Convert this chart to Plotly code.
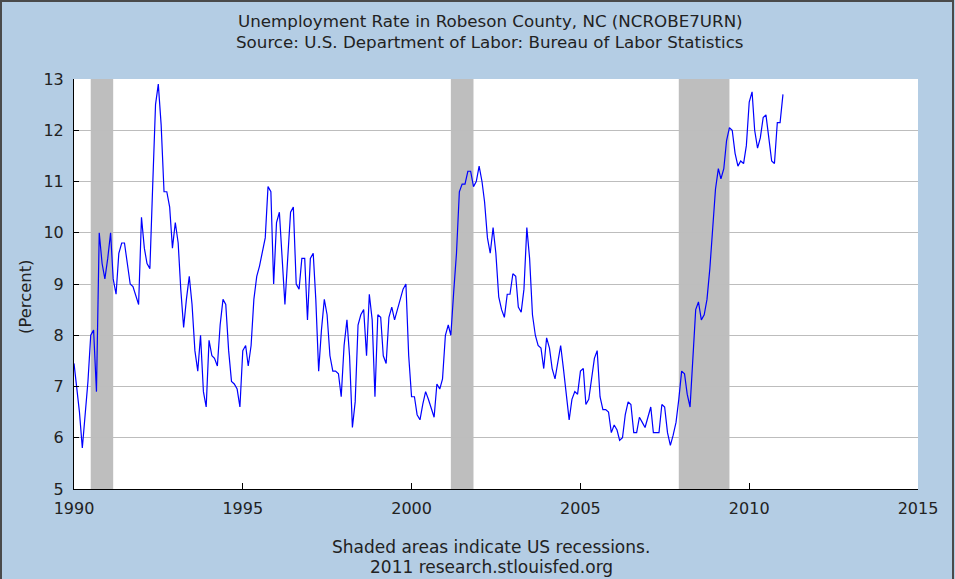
import pandas as pd
import plotly.graph_objects as go

# ---- data (monthly, Jan 1990 - Jan 2011), percent ----
start_month = "1990-01-01"
rate = [
    7.45, 7.0, 6.5, 5.8, 6.5, 7.1, 8.0, 8.1, 6.9, 10.0, 9.4, 9.1,          # 1990
    9.5, 10.0, 9.1, 8.8, 9.6, 9.8, 9.8, 9.4, 9.0, 8.95, 8.75, 8.6,         # 1991
    10.3, 9.7, 9.4, 9.3, 10.9, 12.5, 12.9, 12.1, 10.8, 10.8, 10.5, 9.7,    # 1992
    10.2, 9.8, 8.9, 8.15, 8.7, 9.15, 8.6, 7.7, 7.3, 8.0, 6.9, 6.6,         # 1993
    7.9, 7.6, 7.55, 7.4, 8.2, 8.7, 8.6, 7.7, 7.1, 7.05, 6.95, 6.6,         # 1994
    7.7, 7.8, 7.4, 7.8, 8.7, 9.15, 9.35, 9.6, 9.9, 10.9, 10.8, 9.0,        # 1995
    10.2, 10.4, 9.5, 8.6, 9.5, 10.4, 10.5, 9.0, 8.9, 9.5, 9.5, 8.3,        # 1996
    9.5, 9.6, 8.7, 7.3, 8.1, 8.7, 8.4, 7.6, 7.3, 7.3, 7.25, 6.8,           # 1997
    7.8, 8.3, 7.6, 6.2, 6.7, 8.2, 8.4, 8.5, 7.6, 8.8, 8.3, 6.8,            # 1998
    8.4, 8.35, 7.6, 7.45, 8.35, 8.55, 8.3, 8.5, 8.75, 8.9, 9.0, 7.6,       # 1999
    6.8, 6.8, 6.45, 6.35, 6.65, 6.9, 6.75, 6.55, 6.4, 7.05, 6.95, 7.15,    # 2000
    8.0, 8.2, 8.0, 8.85, 9.6, 10.8, 10.95, 10.95, 11.2, 11.2, 10.9, 11.0,  # 2001
    11.3, 11.0, 10.6, 9.9, 9.6, 10.1, 9.6, 8.75, 8.5, 8.35, 8.8, 8.8,      # 2002
    9.2, 9.15, 8.55, 8.45, 8.9, 10.1, 9.5, 8.4, 8.0, 7.8, 7.75, 7.35,      # 2003
    7.95, 7.75, 7.35, 7.15, 7.45, 7.8, 7.35, 6.9, 6.35, 6.75, 6.9, 6.85,   # 2004
    7.3, 7.35, 6.65, 6.75, 7.1, 7.55, 7.7, 6.8, 6.55, 6.55, 6.5, 6.1,      # 2005
    6.25, 6.15, 5.95, 6.0, 6.45, 6.7, 6.65, 6.1, 6.1, 6.4, 6.3, 6.2,       # 2006
    6.4, 6.6, 6.1, 6.1, 6.1, 6.65, 6.6, 6.1, 5.85, 6.05, 6.3, 6.75,        # 2007
    7.3, 7.25, 6.85, 6.6, 7.6, 8.5, 8.65, 8.3, 8.4, 8.7, 9.3, 10.0,        # 2008
    10.85, 11.25, 11.05, 11.25, 11.8, 12.05, 12.0, 11.55, 11.3, 11.4, 11.35, 11.7,  # 2009
    12.55, 12.75, 12.0, 11.65, 11.85, 12.25, 12.3, 11.85, 11.4, 11.35, 12.15, 12.15,  # 2010
    12.7,                                                                   # 2011
]
recession_start = ["1990-07-01", "2001-03-01", "2007-12-01"]
recession_end = ["1991-03-01", "2001-11-01", "2009-06-01"]
tick_years = ["1990", "1995", "2000", "2005", "2010", "2015"]
y_ticks = [5, 6, 7, 8, 9, 10, 11, 12, 13]

dates = pd.date_range(start_month, periods=len(rate), freq="MS")

# ---- geometry helpers (pixel -> paper) ----
W, H = 955, 579
L, R, T, B = 74, 918, 79, 489


def px(x):
    return (x - L) / (R - L)


def py(y):
    return (B - y) / (B - T)


BG = "#B4CDE4"
TXT = "#222222"
FONT = "DejaVu Sans"

fig = go.Figure()
fig.add_trace(go.Scatter(
    x=dates, y=rate, mode="lines",
    line=dict(color="#0000FF", width=1.2),
    hoverinfo="skip", showlegend=False,
))

shapes = []
for s, e in zip(recession_start, recession_end):
    shapes.append(dict(type="rect", xref="x", yref="paper", x0=s, x1=e, y0=0, y1=1,
                       fillcolor="#BEBEBE", line=dict(width=0), layer="below"))
# outer frame
shapes.append(dict(type="rect", xref="paper", yref="paper",
                   x0=px(1), x1=px(953), y0=py(582), y1=py(1),
                   line=dict(color="#4A4A4A", width=2), fillcolor="rgba(0,0,0,0)", layer="above"))

annotations = [
    dict(text="Unemployment Rate in Robeson County, NC (NCROBE7URN)", x=px(490), y=py(21),
         xref="paper", yref="paper", showarrow=False, xanchor="center", yanchor="middle",
         font=dict(family=FONT, size=16.7, color=TXT)),
    dict(text="Source: U.S. Department of Labor: Bureau of Labor Statistics", x=px(490), y=py(42),
         xref="paper", yref="paper", showarrow=False, xanchor="center", yanchor="middle",
         font=dict(family=FONT, size=16.7, color=TXT)),
    dict(text="Shaded areas indicate US recessions.", x=px(491), y=py(547),
         xref="paper", yref="paper", showarrow=False, xanchor="center", yanchor="middle",
         font=dict(family=FONT, size=17, color=TXT)),
    dict(text="2011 research.stlouisfed.org", x=px(491), y=py(567),
         xref="paper", yref="paper", showarrow=False, xanchor="center", yanchor="middle",
         font=dict(family=FONT, size=17, color=TXT)),
    dict(text="(Percent)", x=px(25), y=py(297), textangle=-90,
         xref="paper", yref="paper", showarrow=False, xanchor="center", yanchor="middle",
         font=dict(family=FONT, size=16.4, color=TXT)),
]

fig.update_layout(
    width=W, height=H,
    margin=dict(l=L, r=W - R, t=T, b=H - B, pad=0),
    paper_bgcolor=BG, plot_bgcolor="#FFFFFF",
    shapes=shapes, annotations=annotations,
    font=dict(family=FONT, size=16, color=TXT),
    xaxis=dict(
        range=["1990-01-01", "2015-01-01"],
        tickvals=[f"{y}-01-01" for y in tick_years], ticktext=tick_years,
        ticks="inside", ticklen=6, tickcolor="#000000", tickwidth=1,
        showgrid=False, zeroline=False,
        showline=True, linecolor="#000000", linewidth=1,
        tickfont=dict(family=FONT, size=16, color=TXT),
        ticklabelstandoff=5,
    ),
    yaxis=dict(
        range=[5, 13], tickvals=y_ticks, ticktext=[str(v) for v in y_ticks],
        ticks="inside", ticklen=5, tickcolor="#000000", tickwidth=1,
        showgrid=True, gridcolor="#BDBDBD", gridwidth=1,
        zeroline=False,
        showline=True, linecolor="#000000", linewidth=1,
        tickfont=dict(family=FONT, size=16, color=TXT),
        ticklabelstandoff=6,
    ),
)

fig.write_html(
    "out.html",
    config={"displayModeBar": False},
    post_script="document.body.style.margin='0';document.body.style.padding='0';"
                "document.body.style.overflow='hidden';",
)
